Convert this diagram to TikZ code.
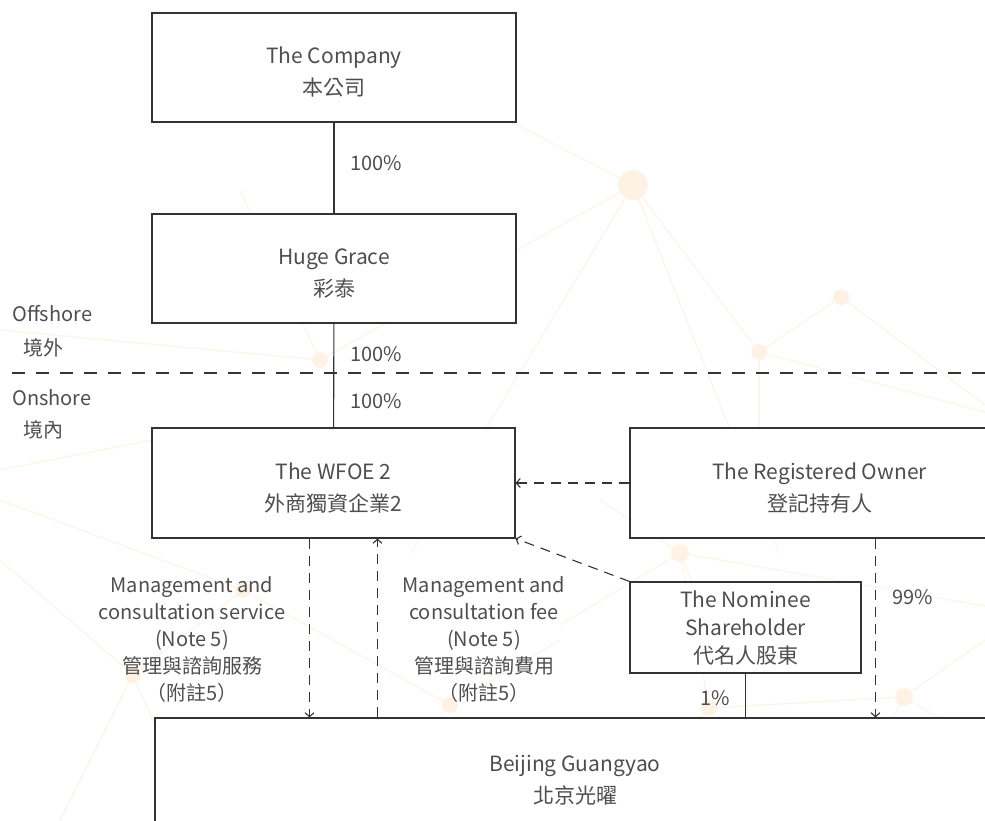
\documentclass[tikz,border=0pt]{standalone}
\usepackage{fontspec}
\setmainfont{Noto Sans CJK TC}
\usetikzlibrary{arrows.meta}

\definecolor{linegray}{HTML}{333333}
\definecolor{textgray}{HTML}{4E4E4E}
\definecolor{netline}{RGB}{254,245,234}
\definecolor{netdot}{RGB}{253,242,228}

% extra room above the first line of a box
\newcommand{\boxtop}{\rule{0pt}{26pt}}

\tikzset{
  entity/.style={draw=linegray, line width=1.1pt, fill=white, align=center,
    text=textgray, inner sep=0pt, font=\fontsize{21pt}{32pt}\selectfont},
  holding/.style={draw=linegray, line width=1.1pt},
  flow/.style={holding, dash pattern=on 10pt off 7pt,
    -{Straight Barb[length=4pt,width=9pt]}},
  border/.style={draw=linegray, line width=1.1pt, dash pattern=on 13pt off 11pt},
  share/.style={text=textgray, inner sep=0pt, font=\fontsize{20pt}{26pt}\selectfont},
  note/.style={share, align=center, font=\fontsize{20pt}{27pt}\selectfont},
  net/.style={netline, line width=1.4pt},
  hub/.style={fill=netdot},
}

\begin{document}
\begin{tikzpicture}[x=1pt, y=-1pt]
  \useasboundingbox (0,0) rectangle (985,821);
  \clip (0,0) rectangle (985,821);

  % background network
  \coordinate (h1) at (633,185);
  \coordinate (h2) at (841,297);
  \coordinate (h3) at (759,352);
  \coordinate (h4) at (680,553);
  \coordinate (h5) at (904,697);
  \coordinate (h6) at (709,708);
  \coordinate (h7) at (450,705);
  \coordinate (h8) at (133,675);
  \coordinate (h9) at (320,360);
  \coordinate (h10) at (243,590);
  \draw[net] (h1) -- (440,85);
  \draw[net] (h1) -- (h9);
  \draw[net] (h1) -- (411,553);
  \draw[net] (h1) -- (779,553);
  \draw[net] (h1) -- (h3);
  \draw[net] (h3) -- (h2);
  \draw[net] (h2) -- (985,405);
  \draw[net] (h3) -- (985,412);
  \draw[net] (h3) -- (759,440);
  \draw[net] (h4) -- (985,606);
  \draw[net] (h4) -- (560,625);
  \draw[net] (h4) -- (600,500);
  \draw[net] (h4) -- (700,600);
  \draw[net] (h4) -- (h6);
  \draw[net] (h5) -- (h6);
  \draw[net] (h5) -- (985,640);
  \draw[net] (h5) -- (985,745);
  \draw[net] (h5) -- (870,760);
  \draw[net] (h6) -- (660,760);
  \draw[net] (h7) -- (560,640);
  \draw[net] (h7) -- (400,760);
  \draw[net] (h7) -- (h10);
  \draw[net] (h8) -- (0,560);
  \draw[net] (h8) -- (170,760);
  \draw[net] (h8) -- (h10);
  \draw[net] (h10) -- (0,500);
  \draw[net] (h9) -- (0,330);
  \draw[net] (h9) -- (240,190);
  \draw[net] (0,470) -- (152,440);
  \draw[net] (60,821) -- (h8);
  \fill[hub] (h1) circle (15);
  \foreach \h in {h2,h3,h6,h7,h8,h9,h10}
    \fill[hub] (\h) circle (8);
  \foreach \h in {h4,h5}
    \fill[hub] (\h) circle (9);

  % entities
  \node[entity, minimum width=364, minimum height=109] (company) at (334,67.5)
    {\boxtop The Company\\本公司};
  \node[entity, minimum width=364, minimum height=109] (huge) at (334,268.5)
    {\boxtop Huge Grace\\彩泰};
  \node[entity, minimum width=363, minimum height=110] (wfoe) at (333.5,483)
    {\boxtop The WFOE 2\\外商獨資企業2};
  \node[entity, minimum width=379, minimum height=110] (owner) at (819.5,483)
    {\boxtop The Registered Owner\\登記持有人};
  \node[entity, minimum width=231, minimum height=91,
    font=\fontsize{21pt}{28pt}\selectfont] (nominee) at (745.5,627.5)
    {The Nominee\\Shareholder\\代名人股東};
  \node[entity, minimum width=840, minimum height=124] (beijing) at (575,780)
    {Beijing Guangyao\\北京光曜};

  % offshore / onshore
  \draw[border] (12,373) -- (985,373);
  \node[share, anchor=west] (offshore) at (12,314) {Offshore};
  \node[share, anchor=west] (offshorecn) at (23,348) {境外};
  \node[share, anchor=west] (onshore) at (12,398) {Onshore};
  \node[share, anchor=west] (onshorecn) at (23,430) {境內};

  % shareholdings
  \draw[holding] (company) -- (huge);
  \draw[holding] (huge) -- (wfoe);
  \draw[holding] (nominee) -- (nominee |- beijing.north);
  \draw[flow] ([xshift=246pt]owner.south west) -- ([xshift=246pt]owner.south west |- beijing.north);
  \node[share, anchor=west] (pc1) at (350,163) {100\%};
  \node[share, anchor=west] (pc2) at (350,354) {100\%};
  \node[share, anchor=west] (pc3) at (350,401) {100\%};
  \node[share, anchor=west] (pc4) at (892,597) {99\%};
  \node[share, anchor=east] (pc5) at (730,698) {1\%};

  % contractual arrangements
  \draw[flow] (owner.west) -- (wfoe.east);
  \draw[flow] (nominee.north west) -- (wfoe.south east);
  \draw[flow] ([xshift=158pt]wfoe.south west) -- ([xshift=158pt]wfoe.south west |- beijing.north);
  \draw[flow] ([xshift=226pt]wfoe.south west |- beijing.north) -- ([xshift=226pt]wfoe.south west);
  \node[note] (service) at (192,639)
    {Management and\\consultation service\\(Note 5)\\管理與諮詢服務\\（附註5）};
  \node[note] (fee) at (484,639)
    {Management and\\consultation fee\\(Note 5)\\管理與諮詢費用\\（附註5）};
\end{tikzpicture}
\end{document}
